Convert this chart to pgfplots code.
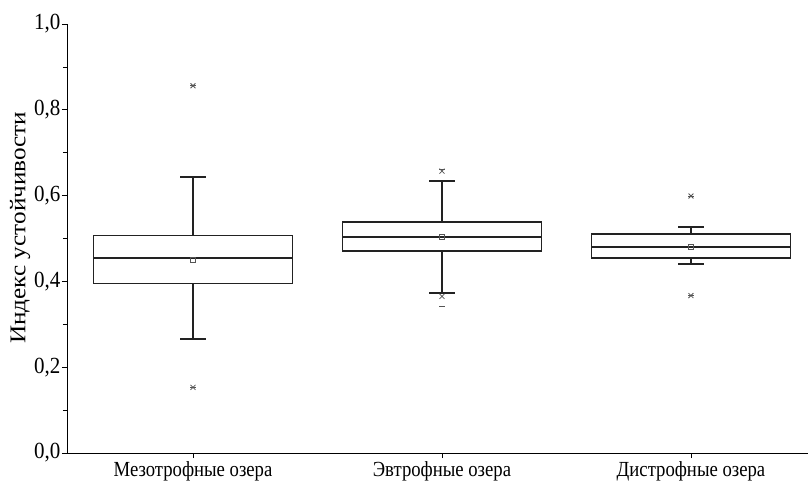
\documentclass[border=0pt]{standalone}
\usepackage{fontspec}
\setmainfont{Liberation Serif}
\usepackage{graphicx}
\usepackage{pgfplots}
\pgfplotsset{compat=1.18}
\usepgfplotslibrary{statistics}
\definecolor{boxc}{HTML}{222222}
\definecolor{markc}{HTML}{555555}
\begin{document}
\begin{tikzpicture}
\useasboundingbox (-67pt,-29pt) rectangle (741pt,453pt);
\begin{axis}[
  at={(0,0)}, anchor=south west,
  scale only axis, width=741pt, height=429pt,
  xmin=-0.506, xmax=2.47, ymin=0, ymax=1,
  axis x line=bottom, axis y line=left,
  axis line style={-, line width=0.8pt, black},
  tick align=outside,
  major tick length=5pt, minor tick length=4pt,
  every tick/.style={black, line width=0.6pt},
  xtick={0,1,2},
  xticklabels={\scalebox{1}[1.15]{Мезотрофные озера}, \scalebox{1}[1.15]{Эвтрофные озера}, \scalebox{1}[1.15]{Дистрофные озера}},
  ytick={0,0.2,0.4,0.6,0.8,1.0},
  minor ytick={0.1,0.3,0.5,0.7,0.9},
  yticklabel={\scalebox{1}[1.1]{\pgfmathprintnumber[fixed, fixed zerofill, precision=1, use comma]{\tick}}},
  /pgf/number format/assume math mode=true,
  xticklabel style={font=\fontsize{18.7}{22}\selectfont, yshift=0pt},
  yticklabel style={font=\fontsize{21}{24}\selectfont, xshift=2pt},
  ylabel={\scalebox{1.12}[1]{Индекс устойчивости}},
  ylabel style={font=\fontsize{22.5}{26}\selectfont, at={(ticklabel cs:0.525)}, yshift=-3pt},
  clip=false,
  boxplot/draw direction=y,
  boxplot/every box/.style={draw=boxc, line width=1.6pt},
  boxplot/every median/.style={draw=boxc, line width=1.6pt},
  boxplot/every whisker/.style={draw=boxc, line width=1.6pt},
]
% Mezotrophic
\addplot[boxc, line width=1.6pt, solid, boxplot prepared={
  draw position=0, box extend=0.8, whisker extend=0.104,
  lower whisker=0.2655, lower quartile=0.395, median=0.455,
  upper quartile=0.507, upper whisker=0.643}] coordinates {};
% Eutrophic
\addplot[boxc, line width=1.6pt, solid, boxplot prepared={
  draw position=1, box extend=0.8, whisker extend=0.104,
  lower whisker=0.373, lower quartile=0.4705, median=0.503,
  upper quartile=0.539, upper whisker=0.634}] coordinates {};
% Dystrophic
\addplot[boxc, line width=1.6pt, solid, boxplot prepared={
  draw position=2, box extend=0.8, whisker extend=0.104,
  lower whisker=0.440, lower quartile=0.455, median=0.4805,
  upper quartile=0.510, upper whisker=0.527}] coordinates {};
% means
\addplot[only marks, mark=square, mark size=2.5pt, markc, line width=0.7pt]
  coordinates {(0,0.450) (1,0.5045) (2,0.481)};
% 1%/99% (x marks)
\addplot[only marks, mark=x, mark size=3.5pt, markc, line width=0.8pt]
  coordinates {(0,0.856) (0,0.153) (1,0.657) (1,0.365) (2,0.599) (2,0.367)};
% min/max (dash marks)
\addplot[only marks, mark=-, mark size=3pt, markc, line width=0.8pt]
  coordinates {(0,0.856) (0,0.153) (1,0.662) (1,0.3415) (2,0.599) (2,0.367)};
\end{axis}
\end{tikzpicture}
\end{document}
